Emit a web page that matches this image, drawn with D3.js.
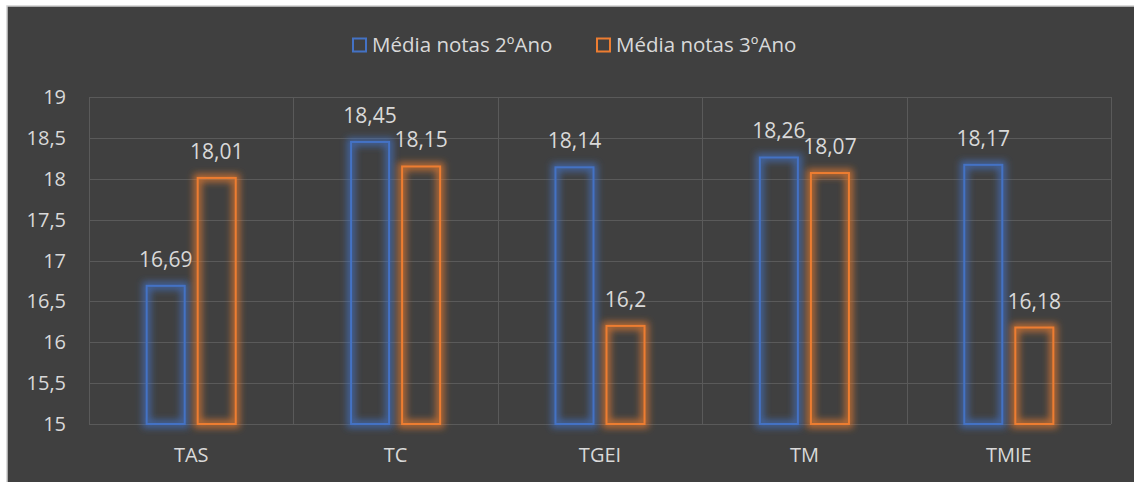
<!DOCTYPE html>
<html>
<head>
<meta charset="utf-8">
<script src="https://cdn.jsdelivr.net/npm/d3@7"></script>
<style>
  body { margin: 0; background: #fff; }
  text { font-family: "Open Sans", sans-serif; fill: #d9d9d9; }
</style>
</head>
<body>
<div id="chart"></div>
<script>
// chart data
const categories = ["TAS", "TC", "TGEI", "TM", "TMIE"];
const seriesNames = ["Média notas 2ºAno", "Média notas 3ºAno"];
const ano2 = [16.69, 18.45, 18.14, 18.26, 18.17];
const ano3 = [18.01, 18.15, 16.2, 18.07, 16.18];
const yTicks = [15, 15.5, 16, 16.5, 17, 17.5, 18, 18.5, 19];

const colors = ["#4472c4", "#ed7d31"];
const width = 1134, height = 482;
const margin = { top: 97, right: 23, bottom: 58, left: 89 };

const svg = d3.select("#chart").append("svg")
    .attr("width", width)
    .attr("height", height)
    .style("display", "block");

// glow filter for the outlined bars
const defs = svg.append("defs");
const glow = defs.append("filter")
    .attr("id", "glow")
    .attr("x", "-50%").attr("y", "-50%")
    .attr("width", "200%").attr("height", "200%");
glow.append("feGaussianBlur").attr("stdDeviation", 3.5);

// background panel
svg.append("rect")
    .attr("x", 7).attr("y", 6)
    .attr("width", width + 10).attr("height", height + 10)
    .attr("fill", "#404040")
    .attr("stroke", "#d0d0d0")
    .attr("stroke-width", 1.5);

const x = d3.scaleBand()
    .domain(categories)
    .range([margin.left, width - margin.right]);

const y = d3.scaleLinear()
    .domain([15, 19])
    .range([height - margin.bottom, margin.top]);

const inner = d3.scaleBand()
    .domain([0, 1])
    .range([0, x.bandwidth()])
    .paddingInner(0.255)
    .paddingOuter(1.13);

// gridlines
const grid = svg.append("g").attr("stroke", "#5a5a5a").attr("stroke-width", 1);
grid.selectAll("line.h")
    .data(yTicks)
    .enter().append("line")
      .attr("x1", margin.left).attr("x2", width - margin.right)
      .attr("y1", d => Math.round(y(d)) + 0.5)
      .attr("y2", d => Math.round(y(d)) + 0.5);
grid.selectAll("line.v")
    .data(categories.concat(["end"]))
    .enter().append("line")
      .attr("x1", (d, i) => Math.round(margin.left + i * x.bandwidth()) + 0.5)
      .attr("x2", (d, i) => Math.round(margin.left + i * x.bandwidth()) + 0.5)
      .attr("y1", y(19)).attr("y2", y(15));

// y axis labels
svg.append("g")
  .selectAll("text")
  .data(yTicks)
  .enter().append("text")
    .attr("x", 66)
    .attr("y", d => y(d) + 7)
    .attr("text-anchor", "end")
    .style("font-size", "20px")
    .text(d => String(d).replace(".", ","));

// x axis labels
svg.append("g")
  .selectAll("text")
  .data(categories)
  .enter().append("text")
    .attr("x", d => x(d) + x.bandwidth() / 2)
    .attr("y", 462)
    .attr("text-anchor", "middle")
    .style("font-size", "20px")
    .text(d => d);

// bars
const series = [ano2, ano3];
series.forEach((vals, s) => {
  const g = svg.append("g");
  const rows = categories.map((c, i) => ({ c: c, v: vals[i] }));

  g.selectAll("rect.glow")
    .data(rows)
    .enter().append("rect")
      .attr("x", d => x(d.c) + inner(s))
      .attr("y", d => y(d.v))
      .attr("width", inner.bandwidth())
      .attr("height", d => y(15) - y(d.v))
      .attr("fill", "none")
      .attr("stroke", colors[s])
      .attr("stroke-width", 8)
      .attr("stroke-opacity", 0.7)
      .attr("filter", "url(#glow)");

  g.selectAll("rect.bar")
    .data(rows)
    .enter().append("rect")
      .attr("x", d => x(d.c) + inner(s))
      .attr("y", d => y(d.v))
      .attr("width", inner.bandwidth())
      .attr("height", d => y(15) - y(d.v))
      .attr("fill", "none")
      .attr("stroke", colors[s])
      .attr("stroke-width", 2);

  g.selectAll("text")
    .data(rows)
    .enter().append("text")
      .attr("x", d => x(d.c) + inner(s) + inner.bandwidth() / 2)
      .attr("y", d => y(d.v) - 19)
      .attr("text-anchor", "middle")
      .style("font-size", "21px")
      .text(d => String(d.v).replace(".", ","));
});

// legend
const legendX = [353, 597];
const legend = svg.append("g");
seriesNames.forEach((name, i) => {
  legend.append("rect")
    .attr("x", legendX[i]).attr("y", 38.5)
    .attr("width", 13).attr("height", 13)
    .attr("fill", "none")
    .attr("stroke", colors[i])
    .attr("stroke-width", 2);
  legend.append("text")
    .attr("x", legendX[i] + 19)
    .attr("y", 52)
    .style("font-size", "20.5px")
    .text(name);
});
</script>
</body>
</html>
